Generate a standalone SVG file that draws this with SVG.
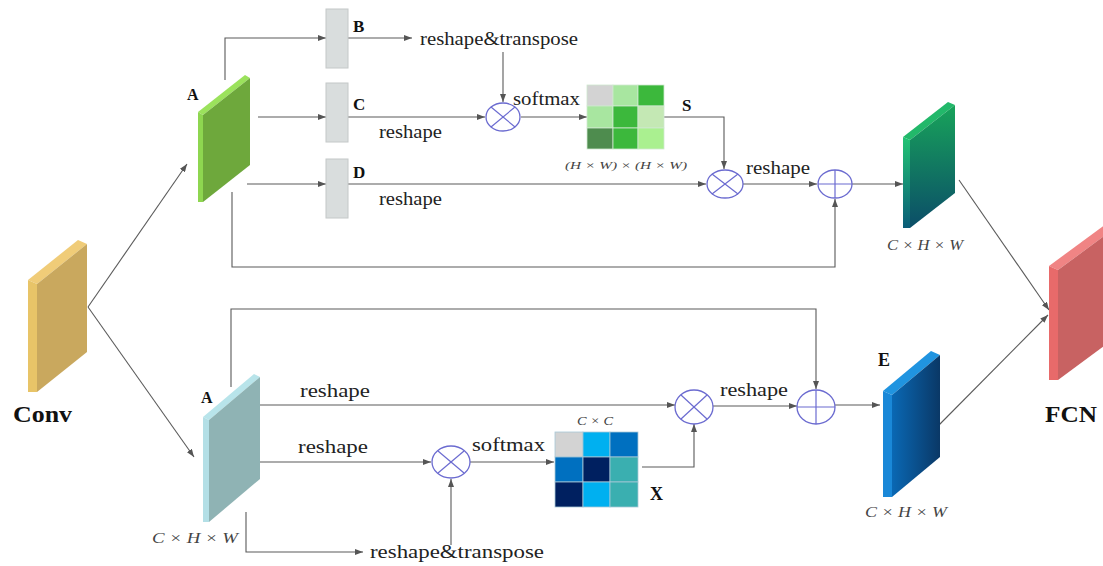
<svg xmlns="http://www.w3.org/2000/svg" width="1103" height="566" viewBox="0 0 1103 566">
<style>
.c{fill:none;stroke:#5a5a5a;stroke-width:1.1}
.op{fill:#fff;stroke:#6b6bd0;stroke-width:1.3}
.opl{stroke:#6b6bd0;stroke-width:1.2}
.t{font-family:"Liberation Serif",serif;font-size:18px;fill:#222}
.b{font-family:"Liberation Serif",serif;font-weight:bold;fill:#111}
.m{font-family:"Liberation Serif",serif;font-style:italic;fill:#444}
.gb{fill:#d9dddd;stroke:#c4c8c8;stroke-width:1}
.cell{stroke:#d0e8d0;stroke-width:0.8}
.cellb{stroke:#a8c8d8;stroke-width:0.8}
</style>
<defs>
<marker id="ah" markerWidth="8" markerHeight="6" refX="8" refY="3" orient="auto" markerUnits="userSpaceOnUse">
<path d="M0,0 L8,3 L0,6 z" fill="#555"/>
</marker>
<linearGradient id="gG" x1="0" y1="0" x2="0" y2="1">
<stop offset="0" stop-color="#18a35a"/><stop offset="1" stop-color="#0b4d68"/>
</linearGradient>
<linearGradient id="gGs" x1="0" y1="0" x2="0" y2="1">
<stop offset="0" stop-color="#22c474"/><stop offset="1" stop-color="#0a5d78"/>
</linearGradient>
<linearGradient id="gE" x1="0" y1="0" x2="1" y2="0">
<stop offset="0" stop-color="#0a68b4"/><stop offset="1" stop-color="#0a3866"/>
</linearGradient>
</defs>

<g id="connectors">
<path class="c" d="M88,307 L187,164" marker-end="url(#ah)"/>
<path class="c" d="M88,307 L194,457" marker-end="url(#ah)"/>
<path class="c" d="M225,80 V38 H326" marker-end="url(#ah)"/>
<path class="c" d="M348,38 H412" marker-end="url(#ah)"/>
<path class="c" d="M503,52 V102" marker-end="url(#ah)"/>
<path class="c" d="M258,117 H326" marker-end="url(#ah)"/>
<path class="c" d="M348,117 H485" marker-end="url(#ah)"/>
<path class="c" d="M521,117 H587" marker-end="url(#ah)"/>
<path class="c" d="M247,184 H326" marker-end="url(#ah)"/>
<path class="c" d="M348,184 H706" marker-end="url(#ah)"/>
<path class="c" d="M664,117 H724 V169" marker-end="url(#ah)"/>
<path class="c" d="M743,184 H817" marker-end="url(#ah)"/>
<path class="c" d="M232,192 V267 H835 V199" marker-end="url(#ah)"/>
<path class="c" d="M852,184 H903" marker-end="url(#ah)"/>
<path class="c" d="M959,180 L1049,310" marker-end="url(#ah)"/>
<path class="c" d="M938,426 L1048,315" marker-end="url(#ah)"/>
<path class="c" d="M231,387 V309 H816 V389" marker-end="url(#ah)"/>
<path class="c" d="M260,405 H675" marker-end="url(#ah)"/>
<path class="c" d="M260,462 H431" marker-end="url(#ah)"/>
<path class="c" d="M470,462 H554" marker-end="url(#ah)"/>
<path class="c" d="M642,467 H694 V424" marker-end="url(#ah)"/>
<path class="c" d="M713,406 H797" marker-end="url(#ah)"/>
<path class="c" d="M835,405 H880" marker-end="url(#ah)"/>
<path class="c" d="M246,512 V552 H363" marker-end="url(#ah)"/>
<path class="c" d="M451,545 V479" marker-end="url(#ah)"/>
</g>

<g id="conv">
<polygon points="28,280 78,240 87,244 37,284" fill="#f0cc78"/>
<polygon points="28,280 37,284 37,392 28,392" fill="#e8c468"/>
<polygon points="37,284 87,244 87,352 37,392" fill="#c9a85e"/>
<text class="b" x="13" y="422" font-size="23" textLength="59" lengthAdjust="spacingAndGlyphs">Conv</text>
</g>

<g id="A-top">
<polygon points="198,112 245,75 250,78 203,115" fill="#9be25c"/>
<polygon points="198,112 203,115 203,202 198,202" fill="#8ed650"/>
<polygon points="203,115 250,78 250,165 203,202" fill="#6ea83c"/>
<text class="b" x="187" y="100" font-size="16">A</text>
</g>

<g id="B">
<rect class="gb" x="326" y="9" width="22" height="59"/>
<text class="b" x="353" y="32" font-size="17">B</text>
</g>
<g id="C">
<rect class="gb" x="326" y="83" width="22" height="59"/>
<text class="b" x="353" y="110" font-size="17">C</text>
</g>
<g id="D">
<rect class="gb" x="326" y="159" width="22" height="59"/>
<text class="b" x="353" y="178" font-size="17">D</text>
</g>

<g id="labels-top">
<text class="t" x="420" y="45" textLength="158" lengthAdjust="spacingAndGlyphs">reshape&amp;transpose</text>
<text class="t" x="379" y="138" textLength="63" lengthAdjust="spacingAndGlyphs">reshape</text>
<text class="t" x="379" y="205" textLength="63" lengthAdjust="spacingAndGlyphs">reshape</text>
<text class="t" x="513" y="105" textLength="67" lengthAdjust="spacingAndGlyphs">softmax</text>
<text class="t" x="746" y="174" textLength="64" lengthAdjust="spacingAndGlyphs">reshape</text>
</g>

<g id="mul1">
<ellipse class="op" cx="503" cy="117" rx="17" ry="14"/>
<line class="opl" x1="491" y1="107" x2="515" y2="127"/>
<line class="opl" x1="515" y1="107" x2="491" y2="127"/>
</g>

<g id="S">
<rect class="cell" x="587" y="85" width="26" height="21" fill="#d3d3d3"/>
<rect class="cell" x="613" y="85" width="25" height="21" fill="#a8e6a0"/>
<rect class="cell" x="638" y="85" width="26" height="21" fill="#3cb83c"/>
<rect class="cell" x="587" y="106" width="26" height="22" fill="#a8e6a0"/>
<rect class="cell" x="613" y="106" width="25" height="22" fill="#3cb83c"/>
<rect class="cell" x="638" y="106" width="26" height="22" fill="#c4e8b4"/>
<rect class="cell" x="587" y="128" width="26" height="21" fill="#4e8c4e"/>
<rect class="cell" x="613" y="128" width="25" height="21" fill="#3cb83c"/>
<rect class="cell" x="638" y="128" width="26" height="21" fill="#aaf090"/>
<text class="b" x="682" y="111" font-size="17">S</text>
<text class="m" x="565" y="169" font-size="11" textLength="122" lengthAdjust="spacingAndGlyphs">(H × W) × (H × W)</text>
</g>

<g id="mul2">
<ellipse class="op" cx="725" cy="184" rx="18" ry="14"/>
<line class="opl" x1="712" y1="174" x2="738" y2="194"/>
<line class="opl" x1="738" y1="174" x2="712" y2="194"/>
</g>

<g id="plus1">
<ellipse class="op" cx="835" cy="184" rx="17" ry="14"/>
<line class="opl" x1="818" y1="184" x2="852" y2="184"/>
<line class="opl" x1="835" y1="170" x2="835" y2="198"/>
</g>

<g id="out-top">
<polygon points="903,137 948,102 955,105 910,140" fill="#22b86a"/>
<polygon points="903,137 910,140 910,228 903,228" fill="url(#gGs)"/>
<polygon points="910,140 955,105 955,193 910,228" fill="url(#gG)"/>
<text class="m" x="887" y="250" font-size="14" textLength="76" lengthAdjust="spacingAndGlyphs">C × H × W</text>
</g>

<g id="FCN">
<polygon points="1049,266 1106,224 1115,228 1058,270" fill="#f08484"/>
<polygon points="1049,266 1058,270 1058,380 1049,380" fill="#e86a6a"/>
<polygon points="1058,270 1115,228 1115,338 1058,380" fill="#c86262"/>
<text class="b" x="1045" y="422" font-size="23" textLength="52" lengthAdjust="spacingAndGlyphs">FCN</text>
</g>

<g id="A-bottom">
<polygon points="203,417 254,374 260,377 209,420" fill="#b8e4ea"/>
<polygon points="203,417 209,420 209,522 203,522" fill="#b3dfe6"/>
<polygon points="209,420 260,377 260,479 209,522" fill="#8fb3b4"/>
<text class="b" x="201" y="403" font-size="16">A</text>
<text class="m" x="152" y="543" font-size="14" textLength="86" lengthAdjust="spacingAndGlyphs">C × H × W</text>
</g>

<g id="labels-bottom">
<text class="t" x="300" y="397" textLength="70" lengthAdjust="spacingAndGlyphs">reshape</text>
<text class="t" x="298" y="453" textLength="70" lengthAdjust="spacingAndGlyphs">reshape</text>
<text class="t" x="472" y="451" textLength="73" lengthAdjust="spacingAndGlyphs">softmax</text>
<text class="t" x="720" y="396" textLength="68" lengthAdjust="spacingAndGlyphs">reshape</text>
<text class="t" x="370" y="558" textLength="174" lengthAdjust="spacingAndGlyphs">reshape&amp;transpose</text>
</g>

<g id="mul4">
<ellipse class="op" cx="451" cy="462" rx="19" ry="16"/>
<line class="opl" x1="438" y1="451" x2="464" y2="473"/>
<line class="opl" x1="464" y1="451" x2="438" y2="473"/>
</g>

<g id="X">
<rect class="cellb" x="555" y="432" width="28" height="25" fill="#d3d3d3"/>
<rect class="cellb" x="583" y="432" width="27" height="25" fill="#00b0f0"/>
<rect class="cellb" x="610" y="432" width="28" height="25" fill="#0070c0"/>
<rect class="cellb" x="555" y="457" width="28" height="25" fill="#0070c0"/>
<rect class="cellb" x="583" y="457" width="27" height="25" fill="#002060"/>
<rect class="cellb" x="610" y="457" width="28" height="25" fill="#3aafb0"/>
<rect class="cellb" x="555" y="482" width="28" height="25" fill="#002060"/>
<rect class="cellb" x="583" y="482" width="27" height="25" fill="#00b0f0"/>
<rect class="cellb" x="610" y="482" width="28" height="25" fill="#3aafb0"/>
<text class="m" x="577" y="425" font-size="12" textLength="36" lengthAdjust="spacingAndGlyphs">C × C</text>
<text class="b" x="650" y="500" font-size="18">X</text>
</g>

<g id="mul3">
<ellipse class="op" cx="694" cy="407" rx="19" ry="17"/>
<line class="opl" x1="681" y1="395" x2="707" y2="419"/>
<line class="opl" x1="707" y1="395" x2="681" y2="419"/>
</g>

<g id="plus2">
<ellipse class="op" cx="816" cy="407" rx="19" ry="17"/>
<line class="opl" x1="797" y1="407" x2="835" y2="407"/>
<line class="opl" x1="816" y1="390" x2="816" y2="424"/>
</g>

<g id="E">
<polygon points="883,391 931,351 940,355 892,395" fill="#2094e0"/>
<polygon points="883,391 892,395 892,497 883,497" fill="#1a88d8"/>
<polygon points="892,395 940,355 940,457 892,497" fill="url(#gE)"/>
<text class="b" x="878" y="366" font-size="18">E</text>
<text class="m" x="865" y="517" font-size="14" textLength="82" lengthAdjust="spacingAndGlyphs">C × H × W</text>
</g>
</svg>
